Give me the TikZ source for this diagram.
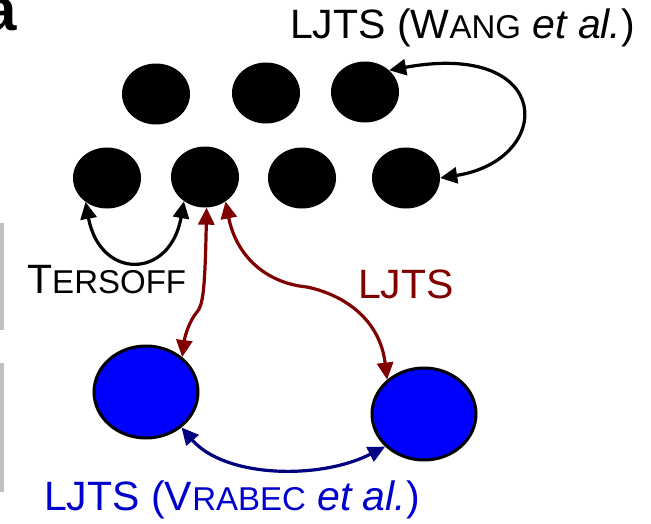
\documentclass[tikz,border=0pt]{standalone}
\usepackage{fontspec}
\setmainfont{Liberation Sans}
\usetikzlibrary{arrows.meta,shapes.geometric}

\definecolor{darkred}{RGB}{128,0,0}
\definecolor{navyline}{RGB}{0,0,128}
\definecolor{labelblue}{RGB}{0,0,204}
\definecolor{ballblue}{RGB}{0,0,255}
\definecolor{bargray}{RGB}{192,192,192}

% hand-made small capitals
\newcommand\mysc[1]{{\fontsize{33}{38}\selectfont #1}}

\tikzset{
  lbl/.style={inner sep=0pt, anchor=base west, font=\fontsize{41}{48}\selectfont},
  atom/.style={ellipse, fill=black, inner sep=0pt, minimum width=68pt, minimum height=61pt},
  bigatom/.style={ellipse, fill=ballblue, draw=black, line width=3pt, inner sep=0pt,
                  minimum width=104pt, minimum height=92pt},
  link/.style={line width=3.2pt, {Triangle[length=17pt,width=16pt]}-{Triangle[length=17pt,width=16pt]}},
}

\begin{document}
\begin{tikzpicture}[x=1pt, y=-1pt]
\useasboundingbox (0,0) rectangle (651,523);
\clip (0,0) rectangle (651,523);

% panel letter, partly cut off at the corner
\node[inner sep=0pt, anchor=base east, font=\bfseries\fontsize{60}{70}\selectfont] (letter) at (17,30) {a};

% grey side bars
\fill[bargray] (0,223) rectangle (4,330);
\fill[bargray] (0,363) rectangle (4,492);

% small atoms, two rows
\node[atom] (c1) at (156,94) {};
\node[atom] (c2) at (266,93) {};
\node[atom] (c3) at (365,92) {};
\node[atom] (c4) at (107,178) {};
\node[atom] (c5) at (205,177) {};
\node[atom] (c6) at (302,178) {};
\node[atom] (c7) at (406,178) {};

% large atoms
\node[bigatom] (b1) at (146,392) {};
\node[bigatom] (b2) at (424,414) {};

% labels
\node[lbl] (wang) at (290,38) {LJTS (W\mysc{ANG} \textit{et al.})};
\node[lbl] (ters) at (27,293) {T\mysc{ERSOFF}};
\node[lbl, text=darkred] (ljts) at (358,298) {LJTS};
\node[lbl, text=labelblue] (vrabec) at (44,510) {LJTS (V\mysc{RABEC} \textit{et al.})};

% interactions
\draw[link, black] (c7.east) .. controls (555,160) and (555,40) .. (c3.42);
\draw[link, black] (c4.-132) .. controls (100,280) and (170,280) .. (c5.-131);
\draw[link, darkred] (c5.-87) .. controls (205,290) and (203,305) .. (197,312)
      .. controls (190,320) and (185,335) .. (b1.44);
\draw[link, darkred] (c5.-50) .. controls (236,255) and (265,283) .. (307,287)
      .. controls (345,295) and (380,320) .. (b2.137);
\draw[link, navyline] (b1.-45) .. controls (225,478) and (320,480) .. (b2.-140);
\end{tikzpicture}
\end{document}
